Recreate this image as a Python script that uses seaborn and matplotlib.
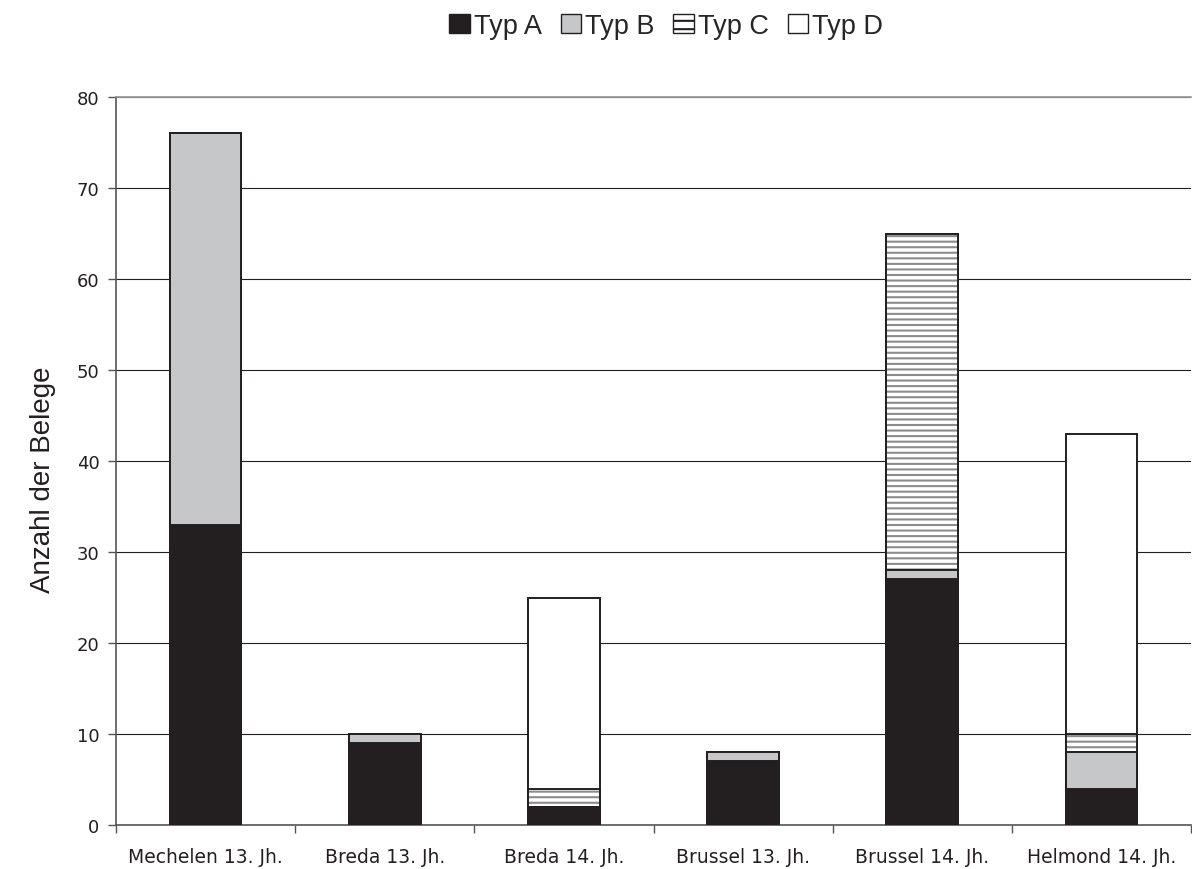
import matplotlib
matplotlib.use("Agg")
import matplotlib.pyplot as plt
from matplotlib.patches import Patch
import numpy as np
import pandas as pd
import seaborn as sns

# Belege je Ort und Jahrhundert, aufgeteilt nach Typ
orte = ["Mechelen 13. Jh.", "Breda 13. Jh.", "Breda 14. Jh.",
        "Brussel 13. Jh.", "Brussel 14. Jh.", "Helmond 14. Jh."]
typ_a = [33, 9, 2, 7, 27, 4]
typ_b = [43, 1, 0, 1, 1, 4]
typ_c = [0, 0, 2, 0, 37, 2]
typ_d = [0, 0, 21, 0, 0, 33]
y_ticks = [0, 10, 20, 30, 40, 50, 60, 70, 80]

sns.set_theme(style="white")
plt.rcParams["font.family"] = ["Liberation Sans", "DejaVu Sans"]
plt.rcParams["hatch.linewidth"] = 1.5

dark = "#231f20"
grey = "#c6c7c9"
hatch_grey = "#8c8c8c"

df = pd.DataFrame({"Ort": orte, "A": typ_a, "B": typ_b, "C": typ_c, "D": typ_d})
df["cum_A"] = df["A"]
df["cum_B"] = df["cum_A"] + df["B"]
df["cum_C"] = df["cum_B"] + df["C"]
df["cum_D"] = df["cum_C"] + df["D"]

fig = plt.figure(figsize=(11.92, 8.7), dpi=100)
ax = fig.add_axes([116 / 1192, 44 / 870, (1191 - 116) / 1192, (826 - 98) / 870])

common = dict(data=df, x="Ort", order=orte, width=0.4, saturation=1, ax=ax, zorder=3)

# stacked bars: cumulative totals drawn from the top segment down
sns.barplot(y="cum_D", color="white", edgecolor=dark, linewidth=1.4, **common)
# Typ C: grey horizontal hatching, then a dark outline on top
sns.barplot(y="cum_C", color="white", edgecolor=hatch_grey, linewidth=0, hatch="---", **common)
sns.barplot(y="cum_C", color=dark, fill=False, linewidth=1.4, **common)
sns.barplot(y="cum_B", color=grey, edgecolor=dark, linewidth=1.4, **common)
sns.barplot(y="cum_A", color=dark, edgecolor=dark, linewidth=1.4, **common)

ax.set_ylim(0, 80)
ax.set_xlim(-0.5, len(orte) - 0.5)
ax.set_yticks(y_ticks)
ax.set_yticklabels([str(t) for t in y_ticks], fontsize=13, color=dark, family="DejaVu Sans")
ax.yaxis.grid(True, color=dark, linewidth=0.8, zorder=0)
ax.set_axisbelow(True)

ax.set_xticks(range(len(orte)))
ax.set_xticklabels(orte, fontsize=13.5, color=dark, family="DejaVu Sans")
ax.tick_params(axis="x", which="major", length=0, pad=16)
ax.set_xticks(np.arange(-0.5, len(orte), 1.0), minor=True)
ax.tick_params(axis="x", which="minor", length=6, width=1, color="#555555", direction="out", bottom=True)
ax.tick_params(axis="y", length=6, width=1, color="#555555", direction="out", left=True, pad=6)

ax.set_xlabel("")
ax.set_ylabel("Anzahl der Belege", fontsize=20, color=dark)
ax.yaxis.set_label_coords(-0.056, 0.475)

for side in ["left", "bottom"]:
    ax.spines[side].set_color("#555555")
    ax.spines[side].set_linewidth(1.2)
ax.spines["top"].set_color("#999999")
ax.spines["right"].set_visible(False)

handles = [
    Patch(facecolor=dark, edgecolor=dark, label="Typ A"),
    Patch(facecolor=grey, edgecolor=dark, label="Typ B"),
    Patch(facecolor="white", edgecolor=dark, hatch="--", label="Typ C"),
    Patch(facecolor="white", edgecolor=dark, label="Typ D"),
]
fig.legend(handles=handles, loc="center", bbox_to_anchor=(666 / 1192, 1 - 27 / 870),
           ncol=4, frameon=False, fontsize=19.5, handlelength=0.75, handleheight=0.75,
           handletextpad=0.15, columnspacing=0.7, borderaxespad=0)

fig.savefig("out.png", dpi=100)
